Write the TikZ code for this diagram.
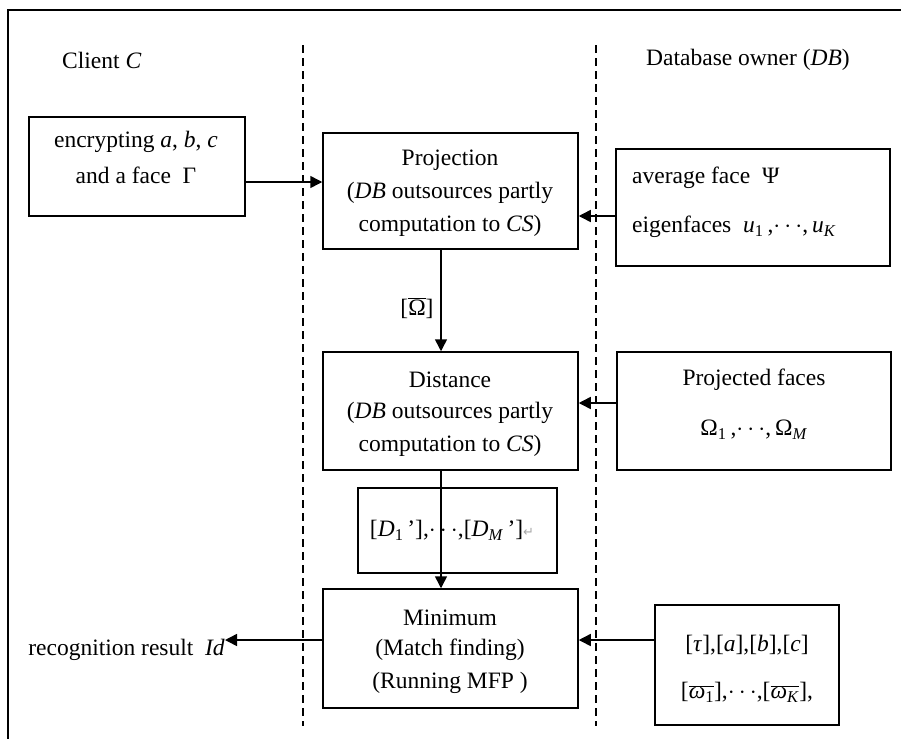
\documentclass[tikz,border=0pt]{standalone}
\usepackage{fontspec}
\setmainfont{Liberation Serif}
\newfontfamily\symfont{DejaVu Sans}
\usetikzlibrary{calc,arrows.meta}
\newcommand{\sbi}[1]{\textsubscript{\textit{#1}}}
\newcommand{\sbn}[1]{\textsubscript{#1}}
\begin{document}
\begin{tikzpicture}[x=1pt,y=-1pt,
  box/.style={draw,line width=1.5pt,inner sep=0pt},
  txt/.style={inner sep=0pt,font=\fontsize{23.5}{33.5}\selectfont,align=center},
  ltxt/.style={inner sep=0pt,font=\fontsize{23.5}{33.5}\selectfont,anchor=west},
  arr/.style={line width=1.5pt,-{Triangle[length=12pt,width=12pt]}},
  lane/.style={line width=1.8pt,dash pattern=on 8pt off 5pt}]
\useasboundingbox (0,0) rectangle (901,739);
% outer frame (top and left)
\draw[line width=1.6pt] (901,10) -- (8,10) -- (8,739);
% lanes
\draw[lane] (303,45) -- (303,726);
\draw[lane] (596,45) -- (596,726);
% headers
\node[ltxt] (hc) at (62,60) {Client \textit{C}};
\node[inner sep=0pt,font=\fontsize{23.5}{33.5}\selectfont,anchor=east] (hdb) at (850,60) {Database owner (\textit{DB})};
% boxes
\node[box,minimum width=216pt,minimum height=99pt] (enc) at (137,166.5) {};
\node[box,minimum width=255pt,minimum height=116pt] (proj) at (450.5,191) {};
\node[box,minimum width=274pt,minimum height=117pt] (avg) at (753,207.5) {};
\node[box,minimum width=255pt,minimum height=118pt] (dist) at (450.5,411) {};
\node[box,minimum width=274pt,minimum height=118pt] (pf) at (754,411) {};
\node[box,minimum width=199pt,minimum height=85pt] (dbox) at (457.5,530.5) {};
\node[box,minimum width=255pt,minimum height=119pt] (minb) at (450.5,648.5) {};
\node[box,minimum width=184pt,minimum height=120pt] (br) at (747,665) {};
% texts
\node[txt] (encT1) at (136,142) {encrypting \textit{a}, \textit{b}, \textit{c}};
\node[txt] (encT2) at (136,175) {and a face\ \ Γ};
\node[txt] (projT1) at (450,160) {Projection};
\node[txt] (projT2) at (450,193) {(\textit{DB} outsources partly};
\node[txt] (projT3) at (450,226) {computation to \textit{CS})};
\node[ltxt] (avgT1) at (632,178) {average face\ \ Ψ};
\node[ltxt] (avgT2) at (632,227) {eigenfaces\ \ \textit{u}\sbn{1}\,,$\cdots$,\,\textit{u}\sbi{K}};
\node[txt] (distT1) at (450,380) {Distance};
\node[txt] (distT2) at (450,413) {(\textit{DB} outsources partly};
\node[txt] (distT3) at (450,446) {computation to \textit{CS})};
\node[txt] (pfT1) at (754,380) {Projected faces};
\node[txt] (pfT2) at (754,430) {Ω\sbn{1}\,,$\cdots$,\,Ω\sbi{M}};
\node[txt] (dT) at (452,530) {[\textit{D}\sbn{1}\,'],$\cdots$,[\textit{D}\sbi{M}\,']{\color{gray!70}\symfont\fontsize{13}{13}\selectfont ↵}};
\node[txt] (minT1) at (450,618) {Minimum};
\node[txt] (minT2) at (450,650) {(Match finding)};
\node[txt] (minT3) at (450,683) {(Running MFP )};
\node[txt] (brT1) at (747,645) {[\textit{τ}],[\textit{a}],[\textit{b}],[\textit{c}]};
\node[txt] (brT2) at (747,692) {[$\overline{\hbox{\textit{ω}\sbn{1}}}$],$\cdots$,[$\overline{\hbox{\textit{ω}\sbi{K}}}$],};
\node[inner sep=0pt,font=\fontsize{23.5}{33.5}\selectfont,anchor=east] (idT) at (225,650) {recognition result\ \ \textit{Id}};
\node[txt] (omT) at (417,308) {[$\overline{\hbox{Ω}}$]};
% connectors
\coordinate (e1) at ($(enc.east)+(0,15.5)$);
\draw[arr] (e1) -- (e1 -| proj.west);
\coordinate (a1) at ($(avg.west)+(0,8.5)$);
\draw[arr] (a1) -- (a1 -| proj.east);
\coordinate (p1) at ($(proj.south)+(-9.5,0)$);
\draw[arr] (p1) -- (p1 |- dist.north);
\coordinate (f1) at ($(pf.west)+(0,-8)$);
\draw[arr] (f1) -- (f1 -| dist.east);
\coordinate (d1) at ($(dist.south)+(-9.5,0)$);
\draw[arr] (d1) -- (d1 |- minb.north);
\coordinate (m1) at ($(minb.west)+(0,-8.5)$);
\draw[arr] (m1) -- (m1 -| idT.east);
\coordinate (b1) at ($(br.west)+(0,-25)$);
\draw[arr] (b1) -- (b1 -| minb.east);
\end{tikzpicture}
\end{document}
